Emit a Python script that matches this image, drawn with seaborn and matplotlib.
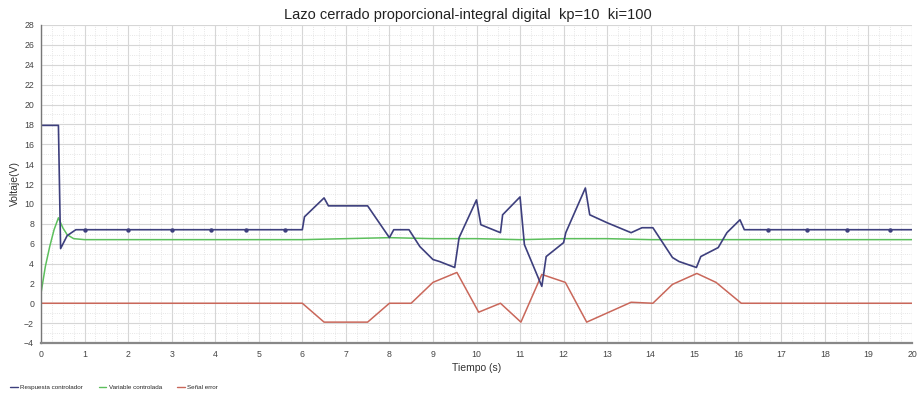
import matplotlib
matplotlib.use("Agg")
import matplotlib.pyplot as plt
from matplotlib.ticker import MultipleLocator
from matplotlib.lines import Line2D
import seaborn as sns
import pandas as pd
import numpy as np

# ---- data ----
t_resp = [0, 0.4, 0.45, 0.6, 0.8, 1.0, 6.0, 6.05, 6.5, 6.6, 7.5, 8.0, 8.1, 8.45, 8.7, 9.0,
          9.15, 9.5, 9.6, 10.0, 10.1, 10.55, 10.6, 11.0, 11.1, 11.5, 11.6, 12.0, 12.05, 12.5,
          12.6, 13.0, 13.55, 13.8, 14.05, 14.5, 14.65, 15.05, 15.15, 15.55, 15.75, 16.05, 16.15, 20.0]
v_resp = [17.9, 17.9, 5.5, 6.8, 7.4, 7.4, 7.4, 8.7, 10.6, 9.8, 9.8, 6.6, 7.4, 7.4, 5.7, 4.4,
          4.2, 3.6, 6.6, 10.4, 7.9, 7.1, 8.9, 10.7, 5.9, 1.7, 4.7, 6.1, 7.1, 11.6,
          8.9, 8.1, 7.1, 7.6, 7.6, 4.6, 4.2, 3.6, 4.7, 5.6, 7.1, 8.4, 7.4, 7.4]

t_mark = [1.0, 2.0, 3.0, 3.9, 4.7, 5.6, 16.7, 17.6, 18.5, 19.5]
v_mark = [7.4, 7.4, 7.4, 7.4, 7.4, 7.4, 7.4, 7.4, 7.4, 7.4]

t_var = [0, 0.1, 0.2, 0.3, 0.4, 0.5, 0.6, 0.75, 1.0, 6.0, 7.0, 8.0, 9.0, 10.0, 11.0, 12.0,
         13.0, 14.0, 15.0, 16.0, 20.0]
v_var = [1.0, 3.7, 5.7, 7.4, 8.6, 7.6, 6.9, 6.5, 6.4, 6.4, 6.5, 6.6, 6.5, 6.5, 6.4, 6.5,
         6.5, 6.4, 6.4, 6.4, 6.4]

t_err = [0, 6.0, 6.5, 7.5, 8.0, 8.5, 9.0, 9.55, 10.05, 10.55, 11.02, 11.5, 12.04, 12.53,
         13.55, 14.05, 14.5, 15.06, 15.5, 16.08, 20.0]
v_err = [0, 0, -1.9, -1.9, 0, 0, 2.1, 3.1, -0.9, 0, -1.9, 2.9, 2.1, -1.9,
         0.1, 0, 1.9, 3.0, 2.1, 0, 0]

x_ticks = list(range(0, 21))
y_ticks = list(range(-4, 29, 2))

labels = ["Respuesta controlador", "Variable controlada", "Señal error"]
colors = ["#3d3f7d", "#5cbf5c", "#c9675a"]
title = "Lazo cerrado proporcional-integral digital  kp=10  ki=100"

# ---- plot ----
sns.set_theme(style="white")
plt.rcParams['font.family'] = ['Liberation Sans', 'DejaVu Sans']

fig = plt.figure(figsize=(9.2, 3.96), dpi=100)
ax = fig.add_axes([41/920, 53/396, (912 - 41)/920, 318/396])

df_r = pd.DataFrame({"t": t_resp, "v": v_resp})
df_g = pd.DataFrame({"t": t_var, "v": v_var})
df_e = pd.DataFrame({"t": t_err, "v": v_err})

sns.lineplot(data=df_e, x="t", y="v", ax=ax, color=colors[2], lw=1.1, sort=False, estimator=None)
sns.lineplot(data=df_g, x="t", y="v", ax=ax, color=colors[1], lw=1.1, sort=False, estimator=None)
sns.lineplot(data=df_r, x="t", y="v", ax=ax, color=colors[0], lw=1.2, sort=False, estimator=None)
sns.scatterplot(x=t_mark, y=v_mark, ax=ax, color=colors[0], s=10, marker="o", linewidth=0, zorder=5)

ax.set_xlim(0, 20)
ax.set_ylim(-4, 28)
ax.set_xticks(x_ticks)
ax.set_yticks(y_ticks)
ax.xaxis.set_minor_locator(MultipleLocator(0.25))
ax.yaxis.set_minor_locator(MultipleLocator(1))
ax.grid(which="major", color="#d6d6d6", lw=0.8, ls="-")
ax.grid(which="minor", color="#dedede", lw=0.6, ls=":")
ax.set_axisbelow(True)

for s in ["top", "right"]:
    ax.spines[s].set_visible(False)
ax.spines["left"].set_color("#777777")
ax.spines["left"].set_linewidth(1.0)
ax.spines["bottom"].set_color("#888888")
ax.spines["bottom"].set_linewidth(1.6)

ax.tick_params(axis="both", which="major", labelsize=6.3, colors="#444444", length=3, width=0.8,
               direction="out", pad=2)
ax.tick_params(axis="both", which="minor", length=0)

ax.set_xlabel("Tiempo (s)", fontsize=7.5, color="#333333", labelpad=3)
ax.set_ylabel("Voltaje(V)", fontsize=7.5, color="#333333", labelpad=3)
fig.text(0.509, 0.962, title, ha="center", va="center", fontsize=10.5, color="#222222")

handles = [Line2D([0], [0], color=c, lw=1.0) for c in colors]
fig.legend(handles, labels, loc="lower left", bbox_to_anchor=(0.005, 0.0), ncol=3,
           fontsize=4.5, frameon=False, handlelength=1.2, handletextpad=0.4, columnspacing=2.5)

fig.savefig("out.png", dpi=100)
